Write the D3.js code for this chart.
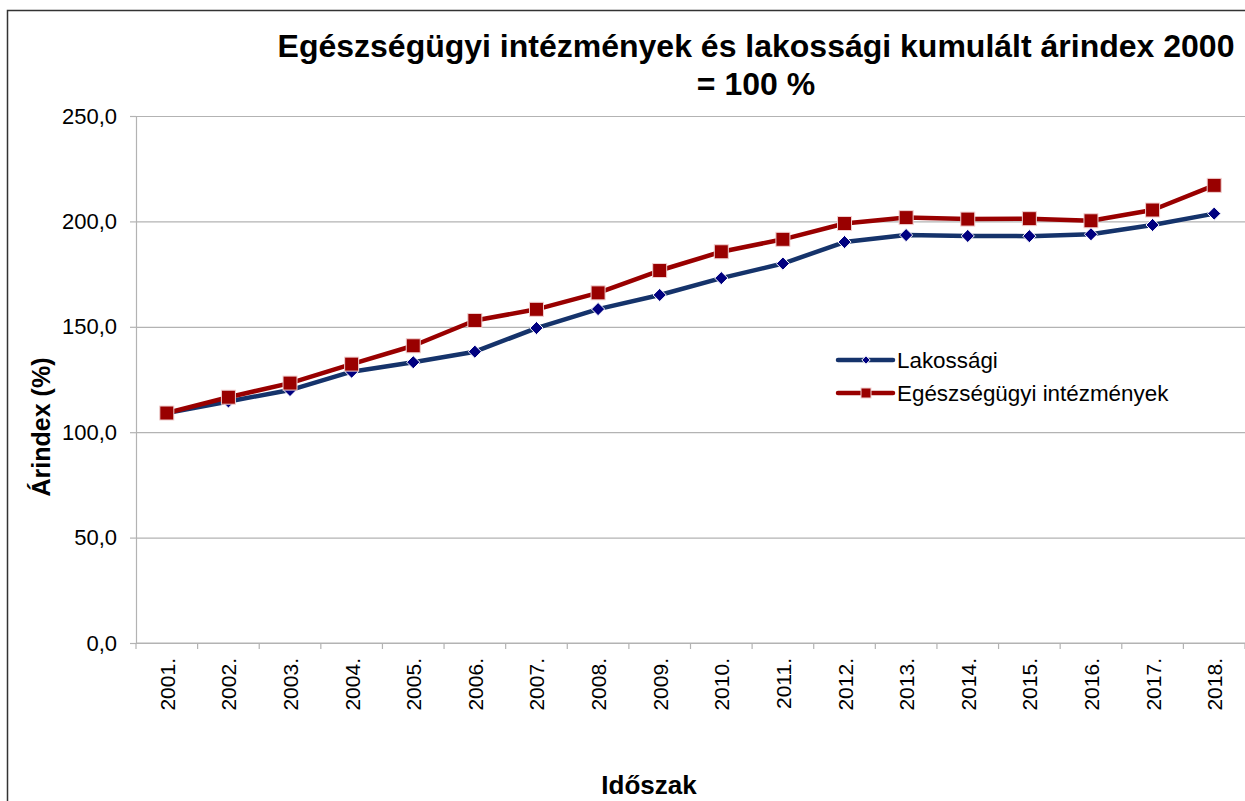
<!DOCTYPE html>
<html>
<head>
<meta charset="utf-8">
<script src="https://cdn.jsdelivr.net/npm/d3@7"></script>
<style>
  body { margin: 0; background: #fff; }
  svg { display: block; font-family: "Liberation Sans", Arial, sans-serif; }
  .tick text { fill: #000; }
</style>
</head>
<body>
<svg id="chart" width="1245" height="801"></svg>
<script>
// years and series values
var years = ['2001.', '2002.', '2003.', '2004.', '2005.', '2006.', '2007.', '2008.', '2009.',
  '2010.', '2011.', '2012.', '2013.', '2014.', '2015.', '2016.', '2017.', '2018.'];
var lakossagi = [109.1, 114.6, 120.0, 128.7, 133.2, 138.2, 149.4, 158.4, 165.1,
  173.1, 180.0, 190.2, 193.5, 193.1, 193.0, 193.9, 198.3, 203.7];
var egeszsegugyi = [109.1, 116.6, 123.3, 132.3, 141.0, 153.0, 158.3, 166.1, 176.7,
  185.6, 191.5, 199.0, 201.8, 201.1, 201.3, 200.3, 205.4, 217.1];
var yTicks = [0, 50, 100, 150, 200, 250];
var seriesNames = ['Lakossági', 'Egészségügyi intézmények'];

(function () {
  var svg = d3.select('#chart');
  var left = 136, right = 1245, top = 116, bottom = 643;

  var xScale = d3.scaleBand().domain(years).range([left, right]).padding(0);
  var yScale = d3.scaleLinear().domain([0, 250]).range([bottom, top]);
  var fmt = function (d) { return d3.format('.1f')(d).replace('.', ','); };
  var cx = function (i) { return xScale(years[i]) + xScale.bandwidth() / 2; };

  // outer frame
  svg.append('rect')
    .attr('x', 7.5).attr('y', 10.5)
    .attr('width', 1300).attr('height', 900)
    .attr('fill', 'none').attr('stroke', '#333').attr('stroke-width', 1.5);

  // grid lines
  svg.append('g')
    .attr('transform', 'translate(' + left + ',0)')
    .call(d3.axisLeft(yScale).tickValues(yTicks).tickSize(-(right - left)).tickFormat(''))
    .call(function (g) {
      g.select('.domain').remove();
      g.selectAll('line').attr('stroke', '#b3b3b3').attr('stroke-width', 1.2);
    });

  // y axis
  svg.append('g')
    .attr('transform', 'translate(' + left + ',0)')
    .call(d3.axisLeft(yScale).tickValues(yTicks).tickSize(6).tickPadding(13).tickFormat(fmt))
    .call(function (g) {
      g.select('.domain').attr('stroke', '#b3b3b3').attr('stroke-width', 1.2);
      g.selectAll('line').attr('stroke', '#b3b3b3').attr('stroke-width', 1.2);
      g.selectAll('text').style('font-size', '22px');
    });

  // x axis line + boundary ticks
  var xg = svg.append('g');
  xg.append('line')
    .attr('x1', left).attr('x2', right)
    .attr('y1', bottom).attr('y2', bottom)
    .attr('stroke', '#b3b3b3').attr('stroke-width', 1.2);
  var bounds = years.map(function (d) { return xScale(d); }).concat([right]);
  xg.selectAll('line.b').data(bounds).enter().append('line')
    .attr('class', 'b')
    .attr('x1', function (d) { return d; }).attr('x2', function (d) { return d; })
    .attr('y1', bottom).attr('y2', bottom + 6)
    .attr('stroke', '#b3b3b3').attr('stroke-width', 1.2);

  // x labels, rotated
  svg.append('g')
    .attr('transform', 'translate(0,' + bottom + ')')
    .call(d3.axisBottom(xScale).tickSize(0).tickPadding(0))
    .call(function (g) {
      g.select('.domain').remove();
      g.selectAll('text')
        .style('font-size', '21px')
        .attr('text-anchor', 'end')
        .attr('dy', null).attr('y', 0)
        .attr('transform', 'translate(8,15) rotate(-90)');
    });

  // lines
  var lineFun = d3.line()
    .x(function (d, i) { return cx(i); })
    .y(function (d) { return yScale(d); });

  svg.append('path').datum(lakossagi)
    .attr('d', lineFun).attr('fill', 'none')
    .attr('stroke', '#15336b').attr('stroke-width', 4.5).attr('stroke-linejoin', 'round');
  svg.append('path').datum(egeszsegugyi)
    .attr('d', lineFun).attr('fill', 'none')
    .attr('stroke', '#990000').attr('stroke-width', 4.5).attr('stroke-linejoin', 'round');

  var diamond = d3.symbol().type(d3.symbolDiamond2).size(110);

  svg.append('g').selectAll('path').data(lakossagi).enter().append('path')
    .attr('d', diamond)
    .attr('transform', function (d, i) {
      return 'translate(' + cx(i) + ',' + yScale(d) + ')';
    })
    .attr('fill', '#000080').attr('stroke', '#fff').attr('stroke-width', 1);

  svg.append('g').selectAll('rect').data(egeszsegugyi).enter().append('rect')
    .attr('x', function (d, i) { return cx(i) - 7; })
    .attr('y', function (d) { return yScale(d) - 7; })
    .attr('width', 14).attr('height', 14)
    .attr('fill', '#990000').attr('stroke', '#f0d0d0').attr('stroke-width', 1);

  // legend
  var legend = svg.append('g');
  var legendY = [360, 393];
  var legendColors = ['#15336b', '#990000'];
  seriesNames.forEach(function (name, i) {
    legend.append('line')
      .attr('x1', 838).attr('x2', 893)
      .attr('y1', legendY[i]).attr('y2', legendY[i])
      .attr('stroke', legendColors[i]).attr('stroke-width', 4.5).attr('stroke-linecap', 'round');
    if (i === 0) {
      legend.append('path')
        .attr('d', d3.symbol().type(d3.symbolDiamond2).size(45))
        .attr('transform', 'translate(866,' + legendY[i] + ')')
        .attr('fill', '#000080').attr('stroke', '#fff').attr('stroke-width', 1);
    } else {
      legend.append('rect')
        .attr('x', 861).attr('y', legendY[i] - 5).attr('width', 10).attr('height', 10)
        .attr('fill', '#990000').attr('stroke', '#f0d0d0').attr('stroke-width', 1);
    }
    legend.append('text')
      .attr('x', 897).attr('y', legendY[i] + 8)
      .style('font-size', '22.4px')
      .text(name);
  });

  // titles
  svg.append('text')
    .attr('x', 756).attr('y', 57)
    .attr('text-anchor', 'middle')
    .style('font-size', '32px').style('font-weight', 'bold')
    .text('Egészségügyi intézmények és lakossági kumulált árindex 2000');
  svg.append('text')
    .attr('x', 756).attr('y', 95)
    .attr('text-anchor', 'middle')
    .style('font-size', '32px').style('font-weight', 'bold')
    .text('= 100 %');

  svg.append('text')
    .attr('transform', 'translate(50,427) rotate(-90)')
    .attr('text-anchor', 'middle')
    .style('font-size', '25px').style('font-weight', 'bold')
    .text('Árindex (%)');

  svg.append('text')
    .attr('x', 649).attr('y', 794)
    .attr('text-anchor', 'middle')
    .style('font-size', '26px').style('font-weight', 'bold')
    .text('Időszak');
})();
</script>
</body>
</html>
